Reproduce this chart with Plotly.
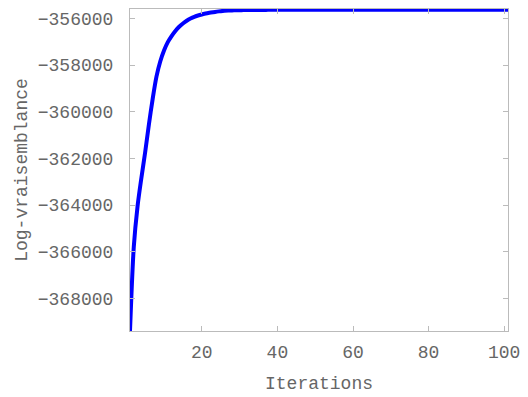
import plotly.graph_objects as go

iterations = list(range(1, 102))
log_likelihood = [
    -369400, -365800, -364050, -362850, -361750, -360550, -359450, -358500, -357850, -357380,
    -357020, -356760, -356540, -356360, -356220, -356105, -356010, -355935, -355880, -355834,
    -355792, -355762, -355737, -355713, -355692, -355676, -355666, -355659, -355654, -355650,
    -355647, -355645, -355643, -355641, -355640, -355639, -355638, -355637, -355636, -355636,
    -355635, -355635, -355634, -355634, -355634, -355633, -355633, -355633, -355633, -355632,
    -355632, -355632, -355632, -355632, -355631, -355631, -355631, -355631, -355631, -355631,
    -355631, -355630, -355630, -355630, -355630, -355630, -355630, -355630, -355630, -355630,
    -355629, -355629, -355629, -355629, -355629, -355629, -355629, -355629, -355629, -355629,
    -355629, -355629, -355628, -355628, -355628, -355628, -355628, -355628, -355628, -355628,
    -355628, -355628, -355628, -355628, -355628, -355628, -355628, -355628, -355628, -355628,
    -355628,
]
x_ticks = [20, 40, 60, 80, 100]
y_ticks = [-368000, -366000, -364000, -362000, -360000, -358000, -356000]

font_family = "Liberation Mono, Courier New, monospace"
grey = "#666666"
frame = "#bbbbbb"
fsize = 18

fig = go.Figure(go.Scatter(
    x=iterations, y=log_likelihood, mode="lines",
    line=dict(color="#0000ff", width=4, shape="spline", smoothing=0.8),
    showlegend=False,
))

fig.update_layout(
    width=528, height=397,
    margin=dict(l=130, r=14, t=8, b=64),
    paper_bgcolor="white", plot_bgcolor="white",
    font=dict(family=font_family, size=fsize, color=grey),
)
fig.update_xaxes(
    range=[1, 101], tickvals=x_ticks, ticks="inside", ticklen=5, tickcolor=frame,
    showline=True, linecolor=frame, linewidth=1, mirror="ticks", showgrid=False,
    zeroline=False, tickfont=dict(size=fsize, color=grey), ticklabelstandoff=4,
    title=dict(text="Iterations", font=dict(size=fsize, color=grey), standoff=14),
)
fig.update_yaxes(
    range=[-369400, -355600], tickvals=y_ticks, tickformat="d", ticks="inside",
    ticklen=5, tickcolor=frame, showline=True, linecolor=frame, linewidth=1,
    mirror="ticks", showgrid=False, zeroline=False, ticklabelstandoff=12,
    tickfont=dict(size=fsize, color=grey),
    title=dict(text="Log-vraisemblance", font=dict(size=fsize, color=grey), standoff=5),
)

fig.write_html("out.html")
